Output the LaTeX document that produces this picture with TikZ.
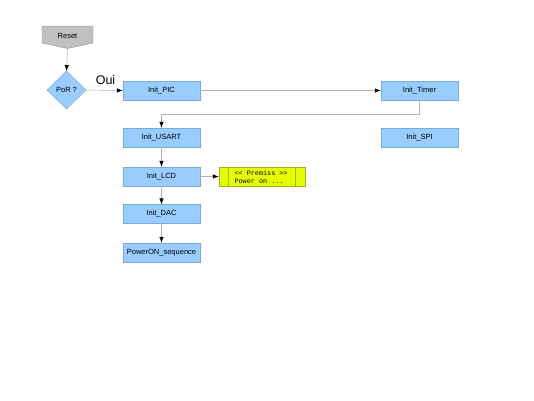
\documentclass[tikz,border=0pt]{standalone}
\usepackage{fontspec}
\setmainfont{Liberation Sans}
\newfontfamily\monof{Liberation Mono}
\usetikzlibrary{arrows.meta}
\definecolor{boxblue}{RGB}{153,204,255}
\definecolor{boxborder}{RGB}{120,170,220}
\definecolor{resetgray}{RGB}{192,192,192}
\definecolor{resetborder}{RGB}{150,150,150}
\definecolor{noteyellow}{RGB}{230,255,0}
\definecolor{noteborder}{RGB}{170,170,40}
\definecolor{linegray}{RGB}{180,180,180}
\begin{document}
\begin{tikzpicture}[x=1pt,y=-1pt,
  procbox/.style={draw=boxborder,fill=boxblue,minimum width=77pt,minimum height=19pt,inner sep=0pt,font=\fontsize{7.5}{9}\selectfont},
  conn/.style={draw=linegray,line width=0.6pt,-{Latex[color=black,length=6pt,width=4.5pt]}},
]
\useasboundingbox (0,0) rectangle (534,400);
% Reset off-page connector
\fill[resetgray,draw=resetborder] (42,26) -- (93,26) -- (93,43) -- (67.5,48.5) -- (42,43) -- cycle;
\node[font=\fontsize{7.5}{9}\selectfont] (reset) at (67.5,36) {Reset};
\coordinate (resetb) at (67.5,48.5);
% Diamond
\fill[boxblue,draw=boxborder] (66.5,71) -- (86,90) -- (66.5,109) -- (47,90) -- cycle;
\node[font=\fontsize{7.5}{9}\selectfont] (por) at (66.5,90) {PoR ?};
\coordinate (port) at (66.5,71);
\coordinate (porr) at (86,90);
% boxes
\node[procbox] (pic) at (161.5,90.5) {Init\_PIC};
\node[procbox] (timer) at (419.5,90.5) {Init\_Timer};
\node[procbox] (usart) at (161.5,137.5) {Init\_USART};
\node[procbox] (spi) at (419.5,137.5) {Init\_SPI};
\node[procbox] (lcd) at (161.5,176.5) {Init\_LCD};
\node[procbox] (dac) at (161.5,214) {Init\_DAC};
\node[procbox] (pwr) at (161.5,252.5) {PowerON\_sequence};
% note
\node[draw=noteborder,fill=noteyellow,minimum width=86pt,minimum height=19pt,inner sep=0pt] (note) at (262,176.5) {};
\draw[noteborder] (228,167) -- (228,186) (295,167) -- (295,186);
\node[font=\monof\fontsize{6.8}{7.7}\selectfont,align=left,anchor=west] (notetext) at (231,177) {<{}< Premiss >{}>\\Power on ...};
% Oui
\node[font=\fontsize{12.5}{14}\selectfont] (oui) at (105.5,80) {Oui};
% connectors
\draw[conn] (resetb) -- (port);
\draw[conn] (porr) -- (pic.west);
\draw[conn] (pic.east) -- (timer.west);
\draw[conn] (timer.south) -- ++(0,14) -| (usart.north);
\draw[conn] (usart.south) -- (lcd.north);
\draw[conn] (lcd.south) -- (dac.north);
\draw[conn] (dac.south) -- (pwr.north);
\draw[conn] (lcd.east) -- (note.west);
\end{tikzpicture}
\end{document}
